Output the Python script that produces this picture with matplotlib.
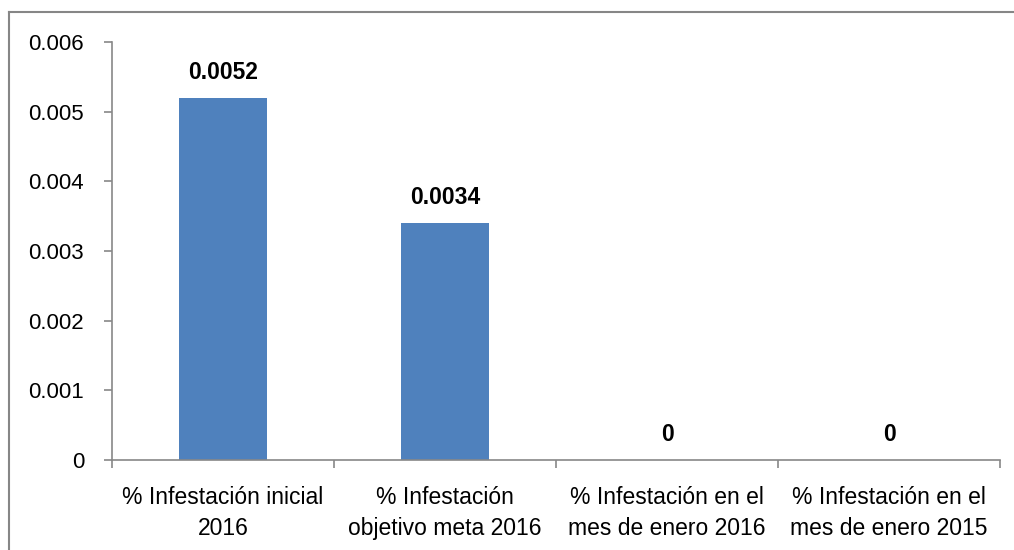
import matplotlib.pyplot as plt
from matplotlib.lines import Line2D

categories = ['% Infestación inicial\n2016', '% Infestación\nobjetivo meta 2016',
              '% Infestación en el\nmes de enero 2016', '% Infestación en el\nmes de enero 2015']
values = [0.0052, 0.0034, 0, 0]
value_labels = ['0.0052', '0.0034', '0', '0']
yticks = [0, 0.001, 0.002, 0.003, 0.004, 0.005, 0.006]
ytick_labels = ['0', '0.001', '0.002', '0.003', '0.004', '0.005', '0.006']

plt.rcParams['font.family'] = ['Liberation Sans', 'DejaVu Sans']

W, H = 1014, 550
fig = plt.figure(figsize=(W / 100, H / 100), dpi=100)
ax = fig.add_axes([112 / W, (H - 460) / H, (1000 - 112) / W, (460 - 42) / H])

x = range(len(categories))
ax.bar(x, values, width=0.4, color='#4f81bd')
for i, (v, lab) in enumerate(zip(values, value_labels)):
    ax.annotate(lab, (i, v), xytext=(0, 18.5), textcoords='offset points',
                ha='center', va='center', fontsize=16.5, fontweight='bold')

ax.set_xlim(-0.5, len(categories) - 0.5)
ax.set_ylim(0, 0.006)
ax.set_yticks(yticks)
ax.set_yticklabels(ytick_labels, fontsize=16)
ax.set_xticks(list(x))
ax.set_xticklabels(categories, fontsize=16.5, linespacing=1.4)
ax.set_xticks([i - 0.5 for i in range(len(categories) + 1)], minor=True)
ax.tick_params(axis='x', which='major', length=0, pad=19)
ax.tick_params(axis='x', which='minor', length=6, color='#888888', width=1.2)
ax.tick_params(axis='y', length=6, color='#888888', width=1.2, pad=14)

for s in ['top', 'right']:
    ax.spines[s].set_visible(False)
for s in ['left', 'bottom']:
    ax.spines[s].set_color('#888888')
    ax.spines[s].set_linewidth(1.2)

# outer frame: only left and top edges are visible in the original
fig.add_artist(Line2D([9 / W, 9 / W], [0, 1 - 12 / H], transform=fig.transFigure,
                      color='#868686', linewidth=1.5))
fig.add_artist(Line2D([9 / W, 1], [1 - 12 / H, 1 - 12 / H], transform=fig.transFigure,
                      color='#868686', linewidth=1.5))

plt.savefig('out.png', dpi=100)
